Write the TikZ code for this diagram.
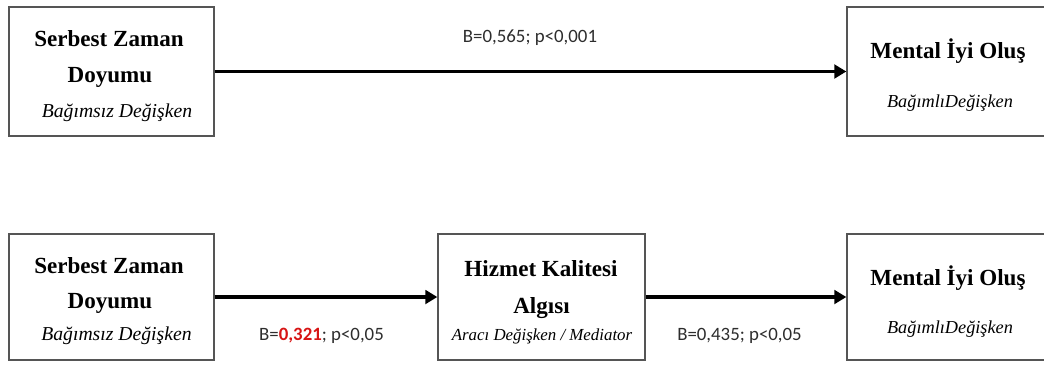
\documentclass[tikz,border=0pt]{standalone}
\usepackage{fontspec}
\setmainfont{Liberation Serif}
\newfontfamily\calib{Carlito}
\usepackage{xcolor}
\usetikzlibrary{arrows.meta}

\definecolor{boxline}{RGB}{85,85,85}
\definecolor{textgray}{RGB}{45,45,45}
\definecolor{valred}{RGB}{215,20,20}

\tikzset{
  box/.style={draw=boxline, line width=0.9pt, fill=white, inner sep=0pt},
  title/.style={anchor=base, font=\fontsize{16.4}{18}\selectfont\bfseries},
  role/.style={anchor=base, font=\fontsize{14}{16}\selectfont\itshape},
  coef/.style={anchor=base, text=textgray, font=\calib\fontsize{13.4}{15}\selectfont},
  path arrow/.style={line width=2.6pt, -{Triangle[length=0.3cm,width=0.34cm]}}
}

\begin{document}
\begin{tikzpicture}[x=0.025cm, y=-0.025cm]
        \useasboundingbox (0,0) rectangle (1044,364);

        % Draw boxes (top row)
        \node[box, minimum width=5.125cm, minimum height=3.225cm] (sat1) at (111.5,71.5) {};
        \node[box, minimum width=5.125cm, minimum height=3.225cm] (well1) at (949.5,71.5) {};

        % Draw boxes (bottom row)
        \node[box, minimum width=5.125cm, minimum height=3.15cm] (sat2) at (111.5,297) {};
        \node[box, minimum width=5.175cm, minimum height=3.15cm] (qual) at (541.5,297) {};
        \node[box, minimum width=5.125cm, minimum height=3.15cm] (well2) at (949.5,297) {};

        % Box texts (top row)
        \node[title] (sat1a) at (109,46) {Serbest Zaman};
        \node[title] (sat1b) at (110,82) {Doyumu};
        \node[role] (sat1c) at (117,117) {Bağımsız Değişken};
        \node[title] (well1a) at (948,58) {Mental İyi Oluş};
        \node[role, font=\fontsize{13}{15}\selectfont\itshape] (well1b) at (950,107) {BağımlıDeğişken};

        % Box texts (bottom row)
        \node[title] (sat2a) at (109,273) {Serbest Zaman};
        \node[title] (sat2b) at (110,308) {Doyumu};
        \node[role] (sat2c) at (116.5,340) {Bağımsız Değişken};
        \node[title] (quala) at (541,276) {Hizmet Kalitesi};
        \node[title] (qualb) at (541.5,313) {Algısı};
        \node[role, font=\fontsize{12}{14}\selectfont\itshape] (qualc) at (542,340) {Aracı Değişken / Mediator};
        \node[title] (well2a) at (948,285) {Mental İyi Oluş};
        \node[role, font=\fontsize{13}{15}\selectfont\itshape] (well2b) at (950,333) {BağımlıDeğişken};

        % Draw paths
        \draw[path arrow] (sat1.east) -- (well1.west);
        \draw[path arrow] (sat2.east) -- (qual.west);
        \draw[path arrow] (qual.east) -- (well2.west);

        % Coefficients
        \node[coef] (c) at (530,42) {B=0,565; p<0,001};
        \node[coef] (a) at (321.5,340) {B=\textcolor{valred}{\bfseries 0,321}; p<0,05};
        \node[coef] (b) at (739.5,340) {B=0,435; p<0,05};

    \end{tikzpicture}
\end{document}
